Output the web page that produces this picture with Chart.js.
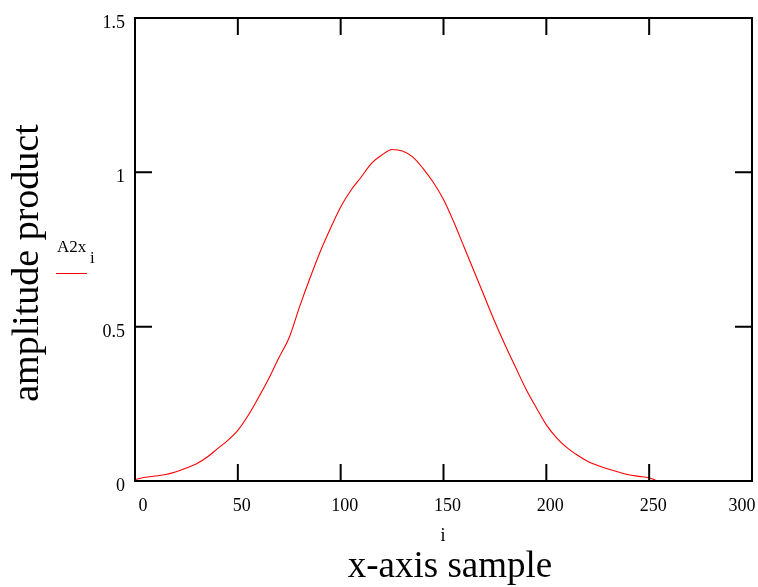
<!DOCTYPE html>
<html>
<head>
<meta charset="utf-8">
<script src="https://cdn.jsdelivr.net/npm/chart.js@4.4.0/dist/chart.umd.min.js"></script>
<style>
  html, body { margin:0; padding:0; background:#fff; }
  #wrap { width:758px; height:587px; position:relative; }
</style>
</head>
<body>
<div id="wrap"><canvas id="chart"></canvas></div>
<script>
// sample index i and the product
const samples = [0,5,10,15,20,25,30,35,40,45,50,55,60,65,70,75,80,85,90,95,100,105,110,115,120,125,
    130,135,140,145,150,155,160,165,170,175,180,185,190,195,200,205,210,215,220,225,230,235,240,245,250,253];
const amplitude = [0.005,0.012,0.016,0.021,0.030,0.042,0.056,0.077,0.104,0.131,0.164,0.212,0.270,0.331,0.400,0.465,
    0.564,0.656,0.742,0.818,0.888,0.942,0.985,1.029,1.056,1.074,
    1.069,1.050,1.013,0.968,0.912,0.839,0.758,0.677,0.596,0.515,0.440,0.369,0.299,0.239,0.182,0.140,
    0.108,0.084,0.064,0.050,0.039,0.029,0.020,0.015,0.010,0.003];
const xTicks = [0,50,100,150,200,250,300];
const yTicks = [0,0.5,1,1.5];
const xTitle = 'x-axis sample';
const yTitle = 'amplitude product';
const seriesName = 'A2x';
const indexName = 'i';

const serif = '"Liberation Serif", "Times New Roman", serif';
const tickLen = 17;

const frame = {
    id:'frame',
    afterDraw(chart) {
        const { ctx, chartArea:a } = chart;
        const x = chart.scales.x;
        const y = chart.scales.y;
        ctx.save();

        // box and inward ticks on all four sides
        ctx.strokeStyle = '#000';
        ctx.lineWidth = 2;
        ctx.strokeRect(a.left, a.top, a.right - a.left, a.bottom - a.top);
        ctx.beginPath();
        xTicks.forEach(v => {
            const px = x.getPixelForValue(v);
            ctx.moveTo(px, a.bottom); ctx.lineTo(px, a.bottom - tickLen);
            ctx.moveTo(px, a.top); ctx.lineTo(px, a.top + tickLen);
        });
        yTicks.forEach(v => {
            const py = y.getPixelForValue(v);
            ctx.moveTo(a.left, py); ctx.lineTo(a.left + tickLen, py);
            ctx.moveTo(a.right, py); ctx.lineTo(a.right - tickLen, py);
        });
        ctx.stroke();

        // tick labels
        ctx.fillStyle = '#000';
        ctx.font = `18px ${serif}`;
        ctx.textBaseline = 'alphabetic';
        ctx.textAlign = 'center';
        xTicks.forEach((v, i) => {
            let px = x.getPixelForValue(v) + 4;
            if (i === 0) px += 4;
            if (i === xTicks.length - 1) px -= 14;
            ctx.fillText(String(v), px, a.bottom + 30);
        });
        ctx.textAlign = 'right';
        yTicks.forEach(v => {
            ctx.fillText(String(v), a.left - 10, y.getPixelForValue(v) + 10);
        });

        // axis titles
        ctx.textAlign = 'center';
        ctx.font = `37px ${serif}`;
        ctx.fillText(xTitle, 450, 577);
        ctx.save();
        ctx.translate(38, 263);
        ctx.rotate(-Math.PI / 2);
        ctx.font = `38px ${serif}`;
        ctx.fillText(yTitle, 0, 0);
        ctx.restore();

        // index under x axis and series tag with its line sample
        ctx.font = `18px ${serif}`;
        ctx.fillText(indexName, 443, 541);
        ctx.textAlign = 'left';
        ctx.font = `17px ${serif}`;
        ctx.fillText(seriesName, 57, 252);
        ctx.fillText(indexName, 90, 263);
        ctx.strokeStyle = '#ff0000';
        ctx.lineWidth = 1;
        ctx.beginPath();
        ctx.moveTo(56, 273.5); ctx.lineTo(87, 273.5);
        ctx.stroke();

        ctx.restore();
    }
};

new Chart(document.getElementById('chart'), {
    type:'line',
    data:{
        datasets:[{
            label:seriesName,
            data:samples.map((s, i) => ({ x:s, y:amplitude[i] })),
            borderColor:'#ff0000',
            borderWidth:1.1,
            pointRadius:0,
            cubicInterpolationMode:'monotone',
            fill:false
        }]
    },
    options:{
        responsive:true,
        maintainAspectRatio:false,
        animation:false,
        events:[],
        layout:{ padding:{ top:18, right:6, left:0, bottom:0 } },
        plugins:{ legend:{display:false}, tooltip:{enabled:false} },
        scales:{
            x:{
                type:'linear', min:0, max:300,
                grid:{display:false}, border:{display:false},
                ticks:{display:false, stepSize:50},
                afterFit(scale) { scale.height = 106; }
            },
            y:{
                type:'linear', min:0, max:1.5,
                grid:{display:false}, border:{display:false},
                ticks:{display:false, stepSize:0.5},
                afterFit(scale) { scale.width = 135; }
            }
        }
    },
    plugins:[frame]
});
</script>
</body>
</html>
